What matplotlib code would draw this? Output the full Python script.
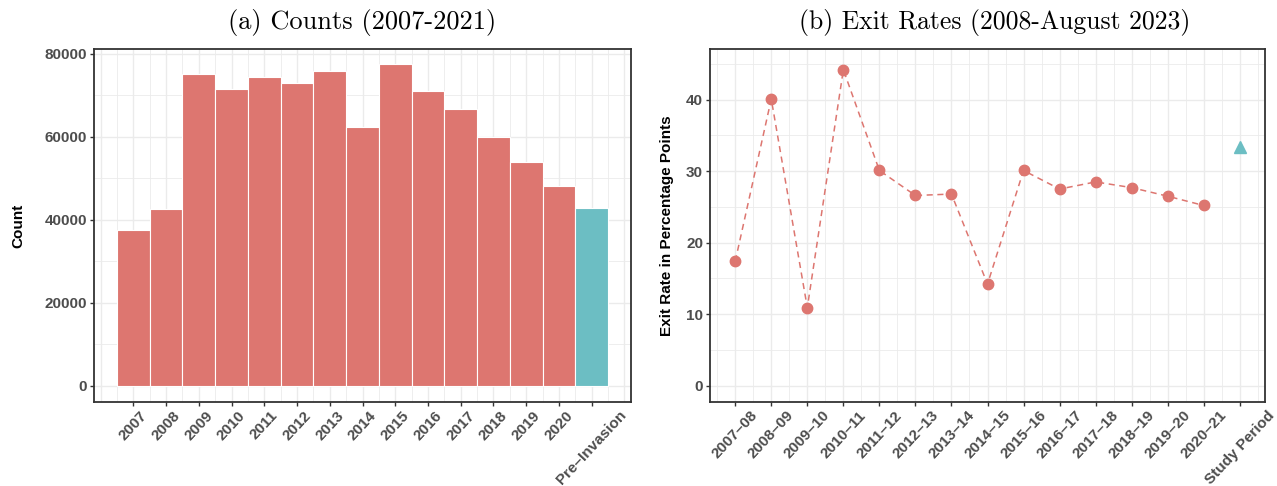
import matplotlib.pyplot as plt
import numpy as np

# panel (a): counts per year
years = ['2007', '2008', '2009', '2010', '2011', '2012', '2013', '2014',
         '2015', '2016', '2017', '2018', '2019', '2020', 'Pre–Invasion']
counts = [37600, 42500, 75000, 71400, 74400, 73000, 75700, 62200,
          77400, 70900, 66700, 59900, 53900, 48000, 42800]

# panel (b): exit rates
periods = ['2007–08', '2008–09', '2009–10', '2010–11', '2011–12', '2012–13',
           '2013–14', '2014–15', '2015–16', '2016–17', '2017–18', '2018–19',
           '2019–20', '2020–21']
exit_rates = [17.4, 40.1, 10.9, 44.2, 30.1, 26.6, 26.8, 14.2, 30.1, 27.5,
              28.5, 27.7, 26.5, 25.2]
study_label = 'Study Period'
study_rate = 33.4

RED = '#DD7670'
TEAL = '#6CBEC3'
GRID = '#EBEBEB'
FRAME = '#333333'
TICKTXT = '#4D4D4D'

W, H = 1277, 486
fig = plt.figure(figsize=(W / 100, H / 100), dpi=100)
ax1 = fig.add_axes([94 / W, 84 / H, 537 / W, 353 / H])
ax2 = fig.add_axes([710 / W, 84 / H, 555 / W, 353 / H])


def style(ax, xmajor, xminor, ymajor, yminor):
    ax.set_axisbelow(True)
    for v in xminor:
        ax.axvline(v, color=GRID, lw=0.6, zorder=0)
    for v in xmajor:
        ax.axvline(v, color=GRID, lw=1.0, zorder=0)
    for v in yminor:
        ax.axhline(v, color=GRID, lw=0.6, zorder=0)
    for v in ymajor:
        ax.axhline(v, color=GRID, lw=1.0, zorder=0)
    for s in ax.spines.values():
        s.set_color(FRAME)
        s.set_linewidth(1.3)
    ax.tick_params(axis='both', length=3, width=1, color=FRAME, pad=2,
                   top=False, right=False)
    ax.tick_params(axis='x', pad=1.5)
    for lab in ax.get_yticklabels():
        lab.set_fontweight('bold')
        lab.set_color(TICKTXT)
        lab.set_fontsize(11)
        lab.set_fontfamily('Liberation Sans')
    for lab in ax.get_xticklabels():
        lab.set_fontweight('bold')
        lab.set_color(TICKTXT)
        lab.set_fontsize(11)
        lab.set_fontfamily('Liberation Sans')
        lab.set_rotation(47)
        lab.set_ha('center')
        lab.set_va('top')


# ---- (a) bars
x1 = np.arange(len(years))
bar_colors = [RED] * (len(years) - 1) + [TEAL]
ax1.bar(x1, counts, width=1.0, color=bar_colors, edgecolor='white', linewidth=0.8, zorder=2)
ax1.set_xlim(-1.2, len(years) - 1 + 1.2)
ax1.set_ylim(-3900, 81100)
ax1.set_yticks([0, 20000, 40000, 60000, 80000])
ax1.set_xticks(x1)
ax1.set_xticklabels(years)
style(ax1, np.arange(-1, len(years) + 1), np.arange(-0.5, len(years), 1.0),
      [0, 20000, 40000, 60000, 80000], [10000, 30000, 50000, 70000])

# ---- (b) line
x2 = np.arange(len(periods))
ax2.plot(x2, exit_rates, color=RED, lw=1.1, ls=(0, (4, 3)), zorder=2)
ax2.plot(x2, exit_rates, 'o', color=RED, ms=7.5, zorder=3)
ax2.plot([len(periods)], [study_rate], '^', color=TEAL, ms=8, zorder=3)
ax2.set_xlim(-0.7, len(periods) + 0.7)
ax2.set_ylim(-2.3, 47.1)
ax2.set_yticks([0, 10, 20, 30, 40])
ax2.set_xticks(np.arange(len(periods) + 1))
ax2.set_xticklabels(periods + [study_label])
style(ax2, np.arange(0, len(periods) + 1), np.arange(-0.5, len(periods) + 1, 1.0),
      [0, 10, 20, 30, 40], [5, 15, 25, 35, 45])

# titles and axis labels
fig.text(362.5 / W, 1 - 22 / H, '(a) Counts (2007-2021)', ha='center', va='center',
         fontsize=19, family='cmr10')
fig.text(995 / W, 1 - 22 / H, '(b) Exit Rates (2008-August 2023)', ha='center', va='center',
         fontsize=18.5, family='cmr10')
fig.text(18 / W, 1 - 225.5 / H, 'Count', rotation=90, ha='center', va='center',
         fontsize=11, fontweight='bold', family='Liberation Sans')
fig.text(667 / W, 1 - 225.5 / H, 'Exit Rate in Percentage Points', rotation=90,
         ha='center', va='center', fontsize=11, fontweight='bold', family='Liberation Sans')

fig.savefig('out.png', dpi=100)
